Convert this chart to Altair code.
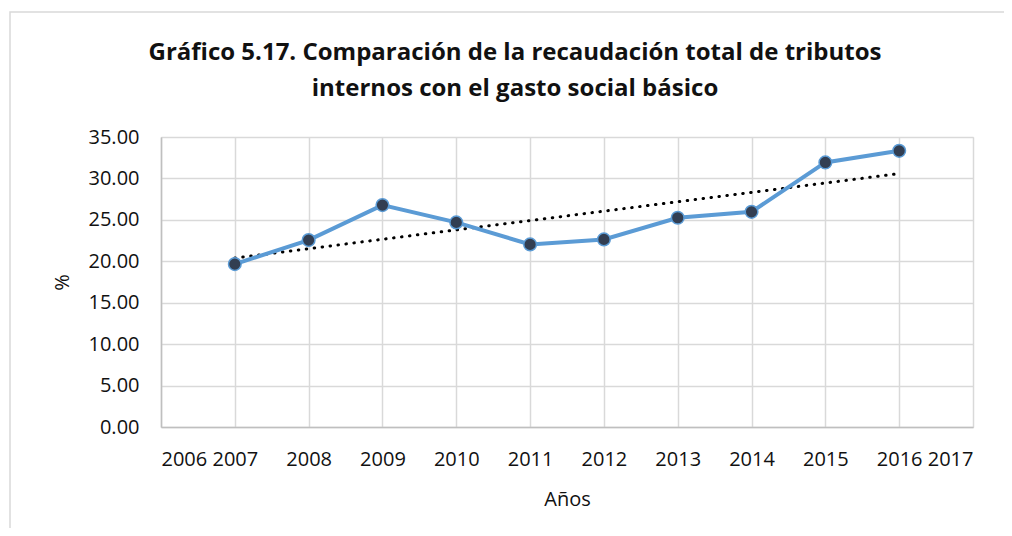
import altair as alt
import pandas as pd

years = [2007, 2008, 2009, 2010, 2011, 2012, 2013, 2014, 2015, 2016]
values = [19.66, 22.56, 26.78, 24.69, 22.04, 22.64, 25.25, 25.97, 31.93, 33.33]
x_ticks = list(range(2006, 2018))
y_ticks = [0, 5, 10, 15, 20, 25, 30, 35]

df = pd.DataFrame({"year": years, "value": values})

FONT = "Open Sans"

x_enc = alt.X("year:Q", scale=alt.Scale(domain=[2006, 2017], nice=False, zero=False),
              axis=alt.Axis(values=x_ticks, format="d", title="Años", titleFontSize=20,
                            titleFontWeight="normal", titlePadding=20, labelFontSize=20,
                            labelPadding=22, ticks=False, domainColor="#bfbfbf",
                            domainWidth=1.5, gridColor="#d9d9d9", gridWidth=1.5,
                            labelColor="#111", titleColor="#111", labelFont=FONT, titleFont=FONT))
y_enc = alt.Y("value:Q", scale=alt.Scale(domain=[0, 35], nice=False),
              axis=alt.Axis(values=y_ticks, format=".2f", title="%", titleFontSize=20,
                            titleFontWeight="normal", titlePadding=16, labelFontSize=20,
                            labelPadding=22, ticks=False, domainColor="#bfbfbf",
                            domainWidth=1.5, gridColor="#d9d9d9", gridWidth=1.5,
                            labelColor="#111", titleColor="#111", labelFont=FONT, titleFont=FONT))

base = alt.Chart(df)

line = base.mark_line(color="#5b9bd5", strokeWidth=4).encode(x=x_enc, y=y_enc)
points = base.mark_point(filled=True, color="#323e52", size=160, stroke="#5b9bd5",
                         strokeWidth=1.5, opacity=1).encode(x="year:Q", y="value:Q")
trend = base.transform_regression("year", "value").mark_line(
    color="black", strokeWidth=3, strokeDash=[0.5, 7.5], strokeCap="round"
).encode(x="year:Q", y="value:Q")

frame = alt.Chart(pd.DataFrame({"a": [0]})).mark_rect(
    fill=None, stroke="#d9d9d9", strokeWidth=1.5, clip=False
).encode(x=alt.value(-151), x2=alt.value(845), y=alt.value(-125), y2=alt.value(420))

chart = alt.layer(frame, trend, line, points).properties(
    width=812, height=290,
    title=alt.TitleParams(
        ["Gráfico 5.17. Comparación de la recaudación total de tributos",
         "internos con el gasto social básico"],
        fontSize=24, font=FONT, fontWeight="bold", color="#111", anchor="middle",
        offset=0, dy=90, dx=-52, lineHeight=36),
    autosize=alt.AutoSizeParams(type="none"),
    padding={"left": 153, "top": 129, "right": 31, "bottom": 101},
).configure_view(stroke=None).configure(background="white")

chart.save("out.html", embed_options={"renderer": "svg", "actions": False})
